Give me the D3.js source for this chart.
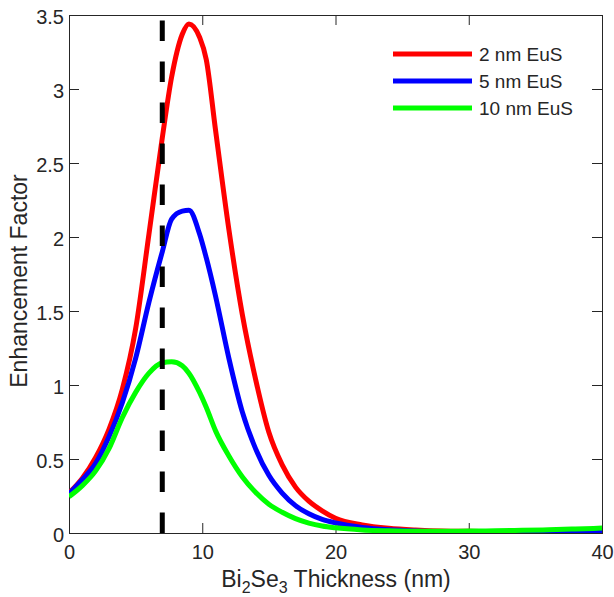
<!DOCTYPE html>
<html>
<head>
<meta charset="utf-8">
<script src="https://cdn.jsdelivr.net/npm/d3@7"></script>
<style>
	body { margin: 0; background: white; }
	text { font-family: "Liberation Sans", Arial, Helvetica, sans-serif; fill: #262626; }
</style>
</head>
<body>
<svg id="chart" width="614" height="597"></svg>
<script>
/* Values */

var thickness = [0, 1, 2, 3, 4, 5, 6, 7, 7.7, 8.5, 9, 9.8, 10.3, 11, 12, 13, 14, 15,
	16, 17, 18, 19, 20, 22, 24, 26, 28, 30, 32, 34, 36, 38, 40];

var eus2nm = [0.27, 0.37, 0.51, 0.7, 0.97, 1.38, 2.02, 2.67, 3.08, 3.37, 3.44, 3.35,
	3.2, 2.72, 2.05, 1.48, 1.04, 0.68, 0.46, 0.31, 0.215, 0.15, 0.10, 0.055, 0.032,
	0.02, 0.013, 0.011, 0.01, 0.01, 0.011, 0.012, 0.014];

var eus5nm = [0.265, 0.36, 0.47, 0.65, 0.88, 1.18, 1.56, 1.9, 2.12, 2.175, 2.18, 2.02,
	1.86, 1.6, 1.18, 0.82, 0.57, 0.39, 0.27, 0.185, 0.13, 0.092, 0.068, 0.038, 0.022,
	0.014, 0.01, 0.008, 0.007, 0.006, 0.006, 0.006, 0.007];

var eus10nm = [0.245, 0.32, 0.42, 0.57, 0.78, 0.95, 1.08, 1.15, 1.157, 1.13, 1.08,
	0.95, 0.85, 0.69, 0.52, 0.38, 0.275, 0.195, 0.14, 0.097, 0.067, 0.047, 0.035,
	0.021, 0.015, 0.012, 0.012, 0.013, 0.015, 0.018, 0.022, 0.027, 0.033];

var seriesNames = ["2 nm EuS", "5 nm EuS", "10 nm EuS"];
var seriesColors = ["#ff0000", "#0000ff", "#00ff00"];

var xTicks = [0, 10, 20, 30, 40];
var yTicks = [0, 0.5, 1, 1.5, 2, 2.5, 3, 3.5];

// Thickness of the marked layer (dashed line).
var markerThickness = [7];

/* Layout */

// Note: "top" is taken by window.top, so everything gets a plot prefix.
var svg = d3.select("#chart");
var plotLeft = 69, plotRight = 602, plotTop = 15, plotBottom = 533;
var tickLen = 10;
var axisColor = "#262626";

var x = d3.scaleLinear().domain([0, 40]).range([plotLeft, plotRight]);
var y = d3.scaleLinear().domain([0, 3.5]).range([plotBottom, plotTop]);

svg.append("defs").append("clipPath").attr("id", "plotClip")
	.append("rect")
	.attr("x", plotLeft).attr("y", plotTop)
	.attr("width", plotRight - plotLeft).attr("height", plotBottom - plotTop);

/* Axes: MATLAB style box with inward ticks */

function styleAxis(g) {
	g.select(".domain").remove();
	g.selectAll(".tick line").attr("stroke", axisColor).attr("stroke-width", 1);
	g.selectAll(".tick text")
		.style("font-size", "20px")
		.attr("fill", axisColor);
	return g;
}

// bottom
svg.append("g")
	.attr("transform", "translate(0," + plotBottom + ")")
	.call(d3.axisBottom(x).tickValues(xTicks).tickSizeInner(-tickLen).tickSizeOuter(0)
		.tickFormat(d3.format("d")))
	.call(styleAxis)
	.call(function (g) {
		g.selectAll(".tick text").attr("y", 26).attr("dy", 0);
	});

// left
svg.append("g")
	.attr("transform", "translate(" + plotLeft + ",0)")
	.call(d3.axisLeft(y).tickValues(yTicks).tickSizeInner(-tickLen).tickSizeOuter(0)
		.tickFormat(function (d) { return String(d); }))
	.call(styleAxis)
	.call(function (g) {
		g.selectAll(".tick text").attr("x", -5).attr("dy", "0.42em");
	});

// top, ticks only
svg.append("g")
	.attr("transform", "translate(0," + plotTop + ")")
	.call(d3.axisTop(x).tickValues(xTicks).tickSizeInner(-tickLen).tickSizeOuter(0)
		.tickFormat(""))
	.call(styleAxis);

// right, ticks only
svg.append("g")
	.attr("transform", "translate(" + plotRight + ",0)")
	.call(d3.axisRight(y).tickValues(yTicks).tickSizeInner(-tickLen).tickSizeOuter(0)
		.tickFormat(""))
	.call(styleAxis);

// the box itself
svg.append("rect")
	.attr("x", plotLeft + 0.5).attr("y", plotTop + 0.5)
	.attr("width", plotRight - plotLeft).attr("height", plotBottom - plotTop)
	.attr("fill", "none")
	.attr("stroke", axisColor)
	.attr("stroke-width", 1);

/* Curves */

var line = d3.line()
	.x(function (d) { return x(d[0]); })
	.y(function (d) { return y(d[1]); })
	.curve(d3.curveMonotoneX);

var allSeries = [eus2nm, eus5nm, eus10nm];

svg.append("g").attr("clip-path", "url(#plotClip)")
	.selectAll("path.curve")
	.data(allSeries)
	.enter().append("path")
	.classed("curve", true)
	.attr("d", function (values) {
		return line(thickness.map(function (t, i) { return [t, values[i]]; }));
	})
	.attr("fill", "none")
	.attr("stroke", function (d, i) { return seriesColors[i]; })
	.attr("stroke-width", 5)
	.attr("stroke-linejoin", "round");

// Dashed marker, drawn from the bottom up so the dashes start at y = 0.
svg.append("g").attr("clip-path", "url(#plotClip)")
	.selectAll("line.marker")
	.data(markerThickness)
	.enter().append("line")
	.classed("marker", true)
	.attr("x1", function (d) { return x(d); })
	.attr("x2", function (d) { return x(d); })
	.attr("y1", y(0))
	.attr("y2", y(3.5))
	.attr("stroke", "black")
	.attr("stroke-width", 5)
	.attr("stroke-dasharray", "20.5 20.5");

/* Legend (no frame) */

var legend = svg.append("g").selectAll("g.entry")
	.data(seriesNames)
	.enter().append("g")
	.classed("entry", true)
	.attr("transform", function (d, i) { return "translate(0," + (54 + i * 27) + ")"; });

legend.append("line")
	.attr("x1", 393).attr("x2", 472)
	.attr("stroke", function (d, i) { return seriesColors[i]; })
	.attr("stroke-width", 5);

legend.append("text")
	.attr("x", 479)
	.attr("dy", "0.36em")
	.style("font-size", "19px")
	.attr("fill", "black")
	.text(function (d) { return d; });

/* Axis titles */

svg.append("text")
	.attr("transform", "translate(27,281) rotate(-90)")
	.attr("text-anchor", "middle")
	.style("font-size", "23px")
	.text("Enhancement Factor");

// Bi2Se3 with real subscripts
var xTitle = svg.append("text")
	.attr("x", 336).attr("y", 587)
	.attr("text-anchor", "middle")
	.style("font-size", "23px");
xTitle.append("tspan").text("Bi");
xTitle.append("tspan").attr("dy", 6).style("font-size", "16px").text("2");
xTitle.append("tspan").attr("dy", -6).text("Se");
xTitle.append("tspan").attr("dy", 6).style("font-size", "16px").text("3");
xTitle.append("tspan").attr("dy", -6).text(" Thickness (nm)");
</script>
</body>
</html>
